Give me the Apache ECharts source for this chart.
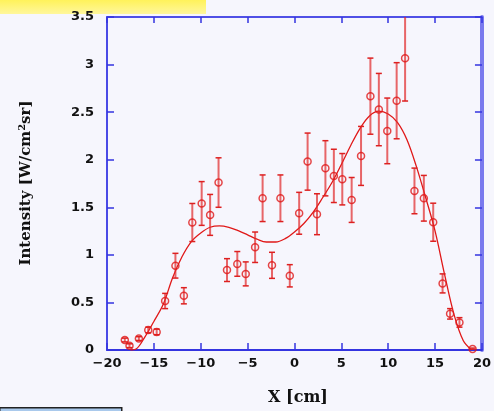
<!DOCTYPE html>
<html>
<head>
<meta charset="utf-8">
<script src="https://cdn.jsdelivr.net/npm/echarts@6/dist/echarts.min.js"></script>
<style>
  html, body { margin: 0; padding: 0; background: #f6f6fd; }
  #chart { width: 494px; height: 411px; }
</style>
</head>
<body>
<div id="chart"></div>
<script>
// Measured intensity profile: position (cm), value, and symmetric error
const posX = [-18.1, -17.6, -16.6, -15.6, -14.7, -13.8, -12.7, -11.8, -10.9, -9.9,
              -9.0, -8.1, -7.2, -6.1, -5.2, -4.2, -3.4, -2.4, -1.5, -0.5,
              0.5, 1.4, 2.4, 3.3, 4.2, 5.1, 6.1, 7.1, 8.1, 9.0,
              9.9, 10.9, 11.8, 12.8, 13.8, 14.8, 15.8, 16.6, 17.6, 19.0];
const intensity = [0.105, 0.045, 0.12, 0.21, 0.19, 0.515, 0.886, 0.57, 1.34, 1.54,
                   1.42, 1.76, 0.84, 0.905, 0.80, 1.08, 1.595, 0.89, 1.595, 0.78,
                   1.437, 1.98, 1.427, 1.91, 1.83, 1.795, 1.577, 2.04, 2.668, 2.527,
                   2.303, 2.62, 3.067, 1.672, 1.595, 1.343, 0.70, 0.38, 0.29, 0.01];
const errors = [0.02, 0.02, 0.02, 0.03, 0.03, 0.08, 0.13, 0.085, 0.2, 0.23,
                0.215, 0.26, 0.12, 0.13, 0.126, 0.16, 0.245, 0.137, 0.245, 0.117,
                0.22, 0.3, 0.215, 0.29, 0.28, 0.27, 0.236, 0.31, 0.40, 0.38,
                0.345, 0.40, 0.45, 0.24, 0.24, 0.2, 0.1, 0.055, 0.05, 0.01];

// Smooth fit curve
const fitX = [-17.5, -16.9, -16, -15, -14, -13, -12, -11, -10, -9, -8, -7, -6, -5, -4, -3, -2, -1,
              0, 1, 2, 3, 4, 5, 6, 7, 8, 9, 10, 11, 12, 13, 14, 15, 16, 17, 18, 18.9];
const fitY = [0.0, 0.01, 0.13, 0.3, 0.48, 0.76, 0.98, 1.14, 1.23, 1.29, 1.305, 1.29, 1.255, 1.21,
              1.165, 1.135, 1.135, 1.17, 1.24, 1.33, 1.45, 1.6, 1.76, 1.95, 2.15, 2.33, 2.46, 2.51,
              2.48, 2.39, 2.21, 1.93, 1.6, 1.25, 0.8, 0.38, 0.1, 0.0];

// Axis settings
const xMin = -20, xMax = 20, xStep = 5;
const yMin = 0, yMax = 3.5, yStep = 0.5;

const RED = '#e01818';
const AXIS_BLUE = '#3434e0';
const minus = v => String(v).replace('-', '\u2212');

const points = posX.map((x, i) => [x, intensity[i]]);
const bars = posX.map((x, i) => [x, intensity[i] - errors[i], intensity[i] + errors[i]]);
const fit = fitX.map((x, i) => [x, fitY[i]]);

const chart = echarts.init(document.getElementById('chart'), null, { renderer: 'canvas' });

const labelFont = { color: '#111', fontFamily: '"DejaVu Sans", sans-serif', fontWeight: 'bold', fontSize: 13 };
const serif = '"DejaVu Serif", "Liberation Serif", serif';

chart.setOption({
  backgroundColor: '#f6f6fd',
  animation: false,
  grid: { left: 107, right: 5, top: 17, bottom: 61, containLabel: false },
  xAxis: [
    {
      type: 'value', min: xMin, max: xMax, interval: xStep, position: 'bottom',
      axisLine: { onZero: false, lineStyle: { color: AXIS_BLUE, width: 2 } },
      axisTick: { inside: true, length: 7, lineStyle: { color: AXIS_BLUE, width: 1.5 } },
      splitLine: { show: false },
      axisLabel: Object.assign({ margin: 7, formatter: minus }, labelFont)
    },
    {
      type: 'value', min: xMin, max: xMax, interval: xStep, position: 'top',
      axisLine: { onZero: false, lineStyle: { color: '#5050e6', width: 2 } },
      axisTick: { inside: true, length: 6, lineStyle: { color: AXIS_BLUE, width: 1.5 } },
      splitLine: { show: false },
      axisLabel: { show: false }
    }
  ],
  yAxis: [
    {
      type: 'value', min: yMin, max: yMax, interval: yStep, position: 'left',
      axisLine: { onZero: false, lineStyle: { color: '#4a4ae6', width: 2 } },
      axisTick: { inside: true, length: 7, lineStyle: { color: AXIS_BLUE, width: 1.5 } },
      splitLine: { show: false },
      axisLabel: Object.assign({ margin: 13 }, labelFont)
    },
    {
      type: 'value', min: yMin, max: yMax, interval: yStep, position: 'right',
      axisLine: { onZero: false, lineStyle: { color: '#7a7aee', width: 4 } },
      axisTick: { inside: true, length: 7, lineStyle: { color: AXIS_BLUE, width: 1.5 } },
      splitLine: { show: false },
      axisLabel: { show: false }
    }
  ],
  series: [
    {
      name: 'fit', type: 'line', data: fit, smooth: 0.35, symbol: 'none',
      lineStyle: { color: RED, width: 1.3 }, clip: true, z: 2
    },
    {
      name: 'errors', type: 'custom', data: bars, clip: true, z: 3,
      renderItem: function (params, api) {
        const x = api.value(0);
        const lo = api.coord([x, api.value(1)]);
        const hi = api.coord([x, api.value(2)]);
        const cap = 3;
        return {
          type: 'group',
          children: [
            { type: 'line', shape: { x1: hi[0], y1: hi[1], x2: lo[0], y2: lo[1] },
              style: { stroke: 'rgba(225,40,40,0.7)', lineWidth: 2 } },
            { type: 'line', shape: { x1: hi[0] - cap, y1: hi[1], x2: hi[0] + cap, y2: hi[1] },
              style: { stroke: '#dd2020', lineWidth: 1.5 } },
            { type: 'line', shape: { x1: lo[0] - cap, y1: lo[1], x2: lo[0] + cap, y2: lo[1] },
              style: { stroke: '#dd2020', lineWidth: 1.5 } }
          ]
        };
      }
    },
    {
      name: 'data', type: 'scatter', data: points, symbol: 'circle', symbolSize: 7, z: 4,
      itemStyle: { color: 'rgba(0,0,0,0)', borderColor: RED, borderWidth: 1.5 }
    }
  ],
  graphic: [
    {
      type: 'rect', left: 0, top: 0, z: -10, silent: true,
      shape: { width: 206, height: 14 },
      style: {
        fill: new echarts.graphic.LinearGradient(0, 0, 0, 1, [
          { offset: 0, color: '#fff25a' },
          { offset: 1, color: '#fff79c' }
        ])
      }
    },
    {
      type: 'rect', left: -1, top: 407, z: -10, silent: true,
      shape: { width: 122, height: 8 },
      style: { fill: '#a9c9ec', stroke: '#222', lineWidth: 1.5 }
    },
    {
      type: 'text', x: 298, y: 398, silent: true,
      style: {
        text: 'X [cm]', align: 'center', verticalAlign: 'middle',
        font: 'bold 16px ' + serif, fill: '#111'
      }
    },
    {
      type: 'text', x: 26, y: 183, rotation: Math.PI / 2, silent: true,
      style: {
        text: '{a|Intensity [W/cm}{s|2}{a|sr]}', align: 'center', verticalAlign: 'middle',
        rich: {
          a: { font: 'bold 15px ' + serif, fill: '#111' },
          s: { font: 'bold 10px ' + serif, fill: '#111', verticalAlign: 'top', padding: [0, 0, 8, 0] }
        }
      }
    }
  ]
});
</script>
</body>
</html>
